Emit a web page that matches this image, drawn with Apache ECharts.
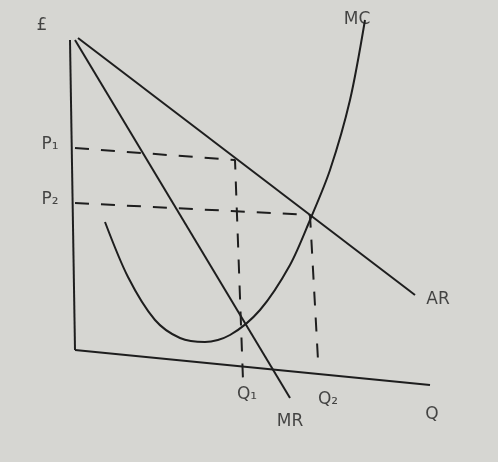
<!DOCTYPE html>
<html><head><meta charset="utf-8">
<script src="https://cdn.jsdelivr.net/npm/echarts@6/dist/echarts.min.js"></script>
<style>html,body{margin:0;background:#d6d6d2}#c{width:498px;height:462px}</style>
</head><body><div id="c"></div>
<script>
// points in picture units (x right, y up), drawn through the value axes
const yAxisLine = [[70, 422], [75, 112]];
const xAxisLine = [[75, 112], [430, 77]];
const arLine = [[78, 424], [415, 167]];
const mrLine = [[75, 422], [290, 64]];
const mcCurve = [[105, 240], [128, 185], [155, 142], [180, 124], [205, 120], [230, 127], [260, 152], [290, 197], [310, 242], [330, 292], [350, 362], [365, 442]];
const p1Dash = [[75, 314], [235, 302], [243, 82]];
const p2Dash = [[75, 259], [310, 247], [318, 102]];
const labels = [
  ["£", 42, 436], ["P₁", 50, 317], ["P₂", 50, 262], ["MC", 357, 442],
  ["AR", 438, 162], ["Q₁", 247, 67], ["Q₂", 328, 62], ["MR", 290, 40], ["Q", 432, 47]
];

const chart = echarts.init(document.getElementById("c"));
const ink = "#1e1e1e";

function line(data, dashed, smooth) {
  return {
    type: "line", data, smooth: smooth || false, symbol: "none",
    lineStyle: { color: ink, width: 2, type: dashed ? [14, 12] : "solid" },
  };
}

chart.setOption({
  backgroundColor: "#d6d6d2",
  grid: { left: 0, right: 0, top: 0, bottom: 0 },
  xAxis: { type: "value", min: 0, max: 498, show: false },
  yAxis: { type: "value", min: 0, max: 462, show: false },
  series: [
    line(yAxisLine), line(xAxisLine), line(arLine), line(mrLine),
    line(mcCurve, false, 0.3), line(p1Dash, true), line(p2Dash, true),
    {
      type: "scatter", symbolSize: 0,
      data: labels.map((l) => ({ value: [l[1], l[2]], name: l[0] })),
      label: {
        show: true, formatter: (p) => p.name, color: ink,
        fontFamily: "DejaVu Sans", fontSize: 17,
      },
    },
  ],
});
</script></body></html>
